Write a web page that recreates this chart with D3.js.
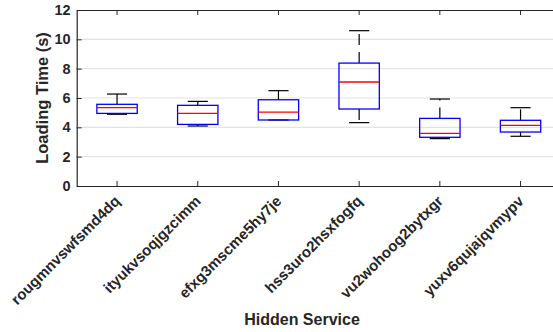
<!DOCTYPE html>
<html>
<head>
<meta charset="utf-8">
<script src="https://cdn.jsdelivr.net/npm/d3@7"></script>
<style>
  body { margin: 0; background: #fff; }
  svg { display: block; font-family: "Liberation Sans", Arial, sans-serif; }
</style>
</head>
<body>
<div id="chart-area"></div>
<script>
// hidden services and their loading-time box stats (seconds)
const services = ["rougmnvswfsmd4dq", "ityukvsoqjgzcimm", "efxg3mscme5hy7je",
                  "hss3uro2hsxfogfq", "vu2wohoog2bytxgr", "yuxv6qujajqvmypv"];
const whiskerLow  = [4.89, 4.09, 4.50, 4.32, 3.23, 3.39];
const q1          = [4.95, 4.20, 4.50, 5.25, 3.32, 3.68];
const median      = [5.34, 4.95, 5.04, 7.09, 3.59, 4.14];
const q3          = [5.57, 5.50, 5.88, 8.38, 4.61, 4.48];
const whiskerHigh = [6.27, 5.77, 6.50, 10.59, 5.93, 5.34];
const yTicks = [0, 2, 4, 6, 8, 10, 12];

const svgWidth = 553, svgHeight = 332;
const plotLeft = 76.7, plotTop = 10, plotBottom = 186;
const step = 80.7;
const plotRight = plotLeft + step * services.length; // runs past the window, like the reference crop
const axisColor = "#262626";

const boxes = services.map((s, i) => ({
    name: s, lo: whiskerLow[i], q1: q1[i], med: median[i], q3: q3[i], hi: whiskerHigh[i]
}));

const svg = d3.select("#chart-area")
    .append("svg")
    .attr("width", svgWidth)
    .attr("height", svgHeight);

const xScale = d3.scaleBand().domain(services).range([plotLeft, plotRight]).padding(0);
const yScale = d3.scaleLinear().domain([0, 12]).range([plotBottom, plotTop]);
const cx = d => xScale(d) + xScale.bandwidth() / 2;
const boxHalf = xScale.bandwidth() * 0.25;
const capHalf = boxHalf / 2;

// grid
svg.append("g")
    .attr("class", "grid")
    .selectAll("line")
    .data(yTicks.filter(t => t > 0 && t < 12))
    .join("line")
    .attr("x1", plotLeft)
    .attr("x2", plotRight)
    .attr("y1", d => yScale(d))
    .attr("y2", d => yScale(d))
    .attr("stroke", "#e3e3e3")
    .attr("stroke-width", 1.2);

// left axis, ticks inward
const yAxis = svg.append("g")
    .attr("class", "y-axis")
    .attr("transform", `translate(${plotLeft},0)`)
    .call(d3.axisLeft(yScale).tickValues(yTicks).tickSize(-5).tickPadding(6).tickSizeOuter(0));
yAxis.select(".domain").attr("stroke", axisColor).attr("stroke-width", 1.2);
yAxis.selectAll("line").attr("stroke", axisColor);
yAxis.selectAll("text")
    .attr("fill", axisColor)
    .style("font-size", "14.5px")
    .style("font-weight", "bold");

// bottom axis
const xAxis = svg.append("g")
    .attr("class", "x-axis")
    .attr("transform", `translate(0,${plotBottom})`)
    .call(d3.axisBottom(xScale).tickSize(-5).tickSizeOuter(0));
xAxis.select(".domain").attr("stroke", axisColor).attr("stroke-width", 1.2);
xAxis.selectAll("line").attr("stroke", axisColor);
xAxis.selectAll("text")
    .attr("fill", axisColor)
    .attr("text-anchor", "end")
    .attr("x", 0)
    .attr("y", 0)
    .attr("dy", 0)
    .attr("transform", "translate(4,16) rotate(-45)")
    .style("font-size", "15px")
    .style("font-weight", "bold");

// top border with ticks
const topAxis = svg.append("g")
    .attr("transform", `translate(0,${plotTop})`)
    .call(d3.axisTop(xScale).tickSize(-5).tickSizeOuter(0).tickFormat(""));
topAxis.select(".domain").attr("stroke", axisColor).attr("stroke-width", 1.2);
topAxis.selectAll("line").attr("stroke", axisColor);

// box plots
const g = svg.append("g").attr("class", "boxes");
const box = g.selectAll("g.box").data(boxes).join("g").attr("class", "box");

// whiskers (dashed) from box edge to caps
box.append("line")
    .attr("x1", d => cx(d.name)).attr("x2", d => cx(d.name))
    .attr("y1", d => yScale(d.q3)).attr("y2", d => yScale(d.hi))
    .attr("stroke", "#000").attr("stroke-width", 1.2)
    .attr("stroke-dasharray", "11,7");
box.append("line")
    .attr("x1", d => cx(d.name)).attr("x2", d => cx(d.name))
    .attr("y1", d => yScale(d.q1)).attr("y2", d => yScale(d.lo))
    .attr("stroke", "#000").attr("stroke-width", 1.2)
    .attr("stroke-dasharray", "11,7");

// caps
["hi", "lo"].forEach(k => {
    box.append("line")
        .attr("x1", d => cx(d.name) - capHalf).attr("x2", d => cx(d.name) + capHalf)
        .attr("y1", d => yScale(d[k])).attr("y2", d => yScale(d[k]))
        .attr("stroke", "#000").attr("stroke-width", 1.2);
});

box.append("rect")
    .attr("x", d => cx(d.name) - boxHalf)
    .attr("width", boxHalf * 2)
    .attr("y", d => yScale(d.q3))
    .attr("height", d => Math.max(0.5, yScale(d.q1) - yScale(d.q3)))
    .attr("fill", "none")
    .attr("stroke", "#0000ff")
    .attr("stroke-width", 1.3);

box.append("line")
    .attr("x1", d => cx(d.name) - boxHalf).attr("x2", d => cx(d.name) + boxHalf)
    .attr("y1", d => yScale(d.med)).attr("y2", d => yScale(d.med))
    .attr("stroke", "#ff0000").attr("stroke-width", 1.3);

// axis titles
svg.append("text")
    .attr("transform", `translate(48,98) rotate(-90)`)
    .attr("text-anchor", "middle")
    .attr("fill", axisColor)
    .style("font-size", "16.5px")
    .style("font-weight", "bold")
    .text("Loading Time (s)");

svg.append("text")
    .attr("x", 302)
    .attr("y", 325)
    .attr("text-anchor", "middle")
    .attr("fill", axisColor)
    .style("font-size", "16px")
    .style("font-weight", "bold")
    .text("Hidden Service");
</script>
</body>
</html>
